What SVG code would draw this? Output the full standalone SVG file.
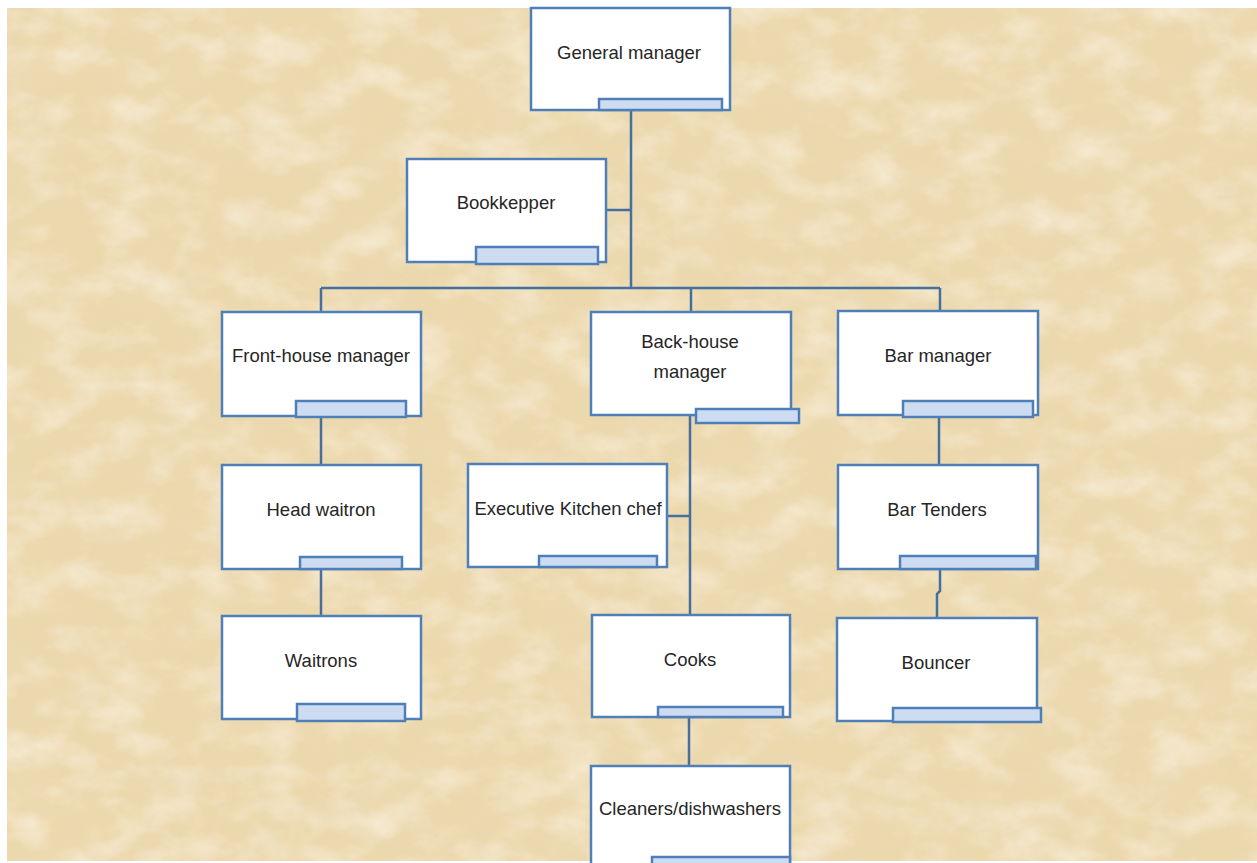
<svg xmlns="http://www.w3.org/2000/svg" width="1257" height="863" viewBox="0 0 1257 863">
<defs>
<filter id="texDark" x="0" y="0" width="100%" height="100%">
<feTurbulence type="fractalNoise" baseFrequency="0.015 0.025" numOctaves="4" seed="7" result="n"/>
<feColorMatrix in="n" type="matrix" values="0 0 0 0 0.85  0 0 0 0 0.72  0 0 0 0 0.50  2.0 0 0 0 -0.85"/>
</filter>
<filter id="texLight" x="0" y="0" width="100%" height="100%">
<feTurbulence type="fractalNoise" baseFrequency="0.02 0.03" numOctaves="4" seed="23" result="n"/>
<feColorMatrix in="n" type="matrix" values="0 0 0 0 0.98  0 0 0 0 0.94  0 0 0 0 0.85  0 2.0 0 0 -0.85"/>
</filter>
<style>
.box{fill:#ffffff;stroke:#4f7fb8;stroke-width:2.5}
.tab{fill:#cddcf0;stroke:#4f7fb8;stroke-width:2.5}
.con{fill:none;stroke:#43709f;stroke-width:2.5}
text{font-family:"Liberation Sans",Arial,sans-serif;font-size:18.5px;fill:#262626;text-anchor:middle}
</style>
</defs>
<rect x="0" y="0" width="1257" height="863" fill="#ffffff"/>
<g id="background">
<rect x="7" y="8" width="1250" height="853" fill="#ecd8ad"/>
<rect x="7" y="8" width="1250" height="853" filter="url(#texDark)" opacity="0.55"/>
<rect x="7" y="8" width="1250" height="853" filter="url(#texLight)" opacity="0.55"/>
</g>
<g id="connectors">
<path class="con" d="M631 110V288M606 210H631M321 288H940M321 288V312M691 288V312M940 288V312"/>
<path class="con" d="M321 416V465M321 569V616"/>
<path class="con" d="M690 415V615M667 516H690M689 717V766"/>
<path class="con" d="M939 415V465M940 569V591L937 594V618"/>
</g>
<g id="general-manager"><rect class="box" x="531" y="8" width="199" height="102"/><rect class="tab" x="599" y="99" width="123" height="11"/><text x="629" y="59">General manager</text></g>
<g id="bookkepper"><rect class="box" x="407" y="159" width="199" height="103"/><rect class="tab" x="476" y="247" width="122" height="17"/><text x="506" y="209">Bookkepper</text></g>
<g id="front-house-manager"><rect class="box" x="222" y="312" width="199" height="104"/><rect class="tab" x="296" y="401" width="110" height="16"/><text x="321" y="362">Front-house manager</text></g>
<g id="back-house-manager"><rect class="box" x="591" y="312" width="200" height="103"/><rect class="tab" x="696" y="409" width="103" height="14"/><text x="690" y="348">Back-house</text><text x="690" y="378">manager</text></g>
<g id="bar-manager"><rect class="box" x="838" y="311" width="200" height="104"/><rect class="tab" x="903" y="401" width="130" height="16"/><text x="938" y="362">Bar manager</text></g>
<g id="head-waitron"><rect class="box" x="222" y="465" width="199" height="104"/><rect class="tab" x="300" y="557" width="102" height="12"/><text x="321" y="516">Head waitron</text></g>
<g id="executive-kitchen-chef"><rect class="box" x="468" y="464" width="199" height="103"/><rect class="tab" x="539" y="556" width="118" height="11"/><text x="568" y="515">Executive Kitchen chef</text></g>
<g id="bar-tenders"><rect class="box" x="838" y="465" width="200" height="104"/><rect class="tab" x="900" y="556" width="136" height="13"/><text x="937" y="516">Bar Tenders</text></g>
<g id="waitrons"><rect class="box" x="222" y="616" width="199" height="103"/><rect class="tab" x="297" y="704" width="108" height="17"/><text x="321" y="667">Waitrons</text></g>
<g id="cooks"><rect class="box" x="592" y="615" width="198" height="102"/><rect class="tab" x="658" y="707" width="125" height="10"/><text x="690" y="666">Cooks</text></g>
<g id="bouncer"><rect class="box" x="837" y="618" width="200" height="103"/><rect class="tab" x="893" y="708" width="148" height="14"/><text x="936" y="669">Bouncer</text></g>
<g id="cleaners-dishwashers"><rect class="box" x="591" y="766" width="199" height="110"/><rect class="tab" x="652" y="857" width="138" height="12"/><text x="690" y="815">Cleaners/dishwashers</text></g>
</svg>
